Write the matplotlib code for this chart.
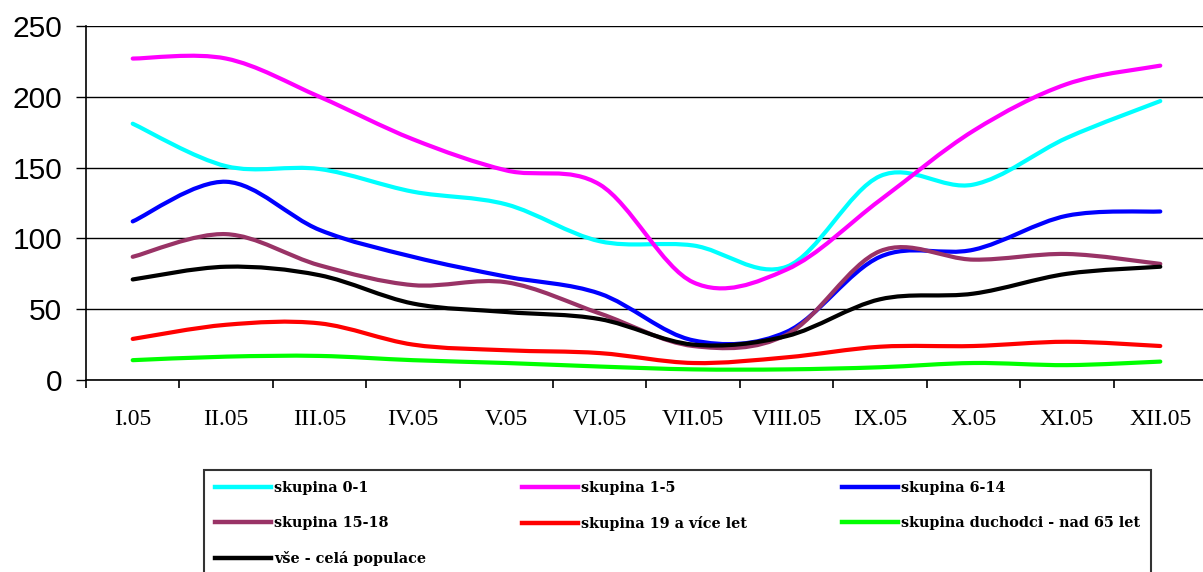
import numpy as np
import matplotlib.pyplot as plt
from matplotlib.path import Path
from matplotlib.patches import PathPatch
from matplotlib.lines import Line2D

mesice = ["I.05", "II.05", "III.05", "IV.05", "V.05", "VI.05",
          "VII.05", "VIII.05", "IX.05", "X.05", "XI.05", "XII.05"]

skupina_0_1 = [181, 151, 149, 133, 124, 98, 95, 80, 144, 138, 171, 197]
skupina_1_5 = [227, 227, 200, 170, 148, 138, 69, 78, 127, 176, 209, 222]
skupina_6_14 = [112, 140, 106, 87, 73, 61, 28, 34, 87, 92, 116, 119]
skupina_15_18 = [87, 103, 81, 67, 69, 47, 24, 32, 91, 85, 89, 82]
skupina_19 = [29, 39, 40, 25, 21, 19, 12, 16, 23.5, 24, 27, 24]
duchodci = [14, 16.5, 17, 14, 12, 9.5, 7.5, 7.5, 9, 12, 10.5, 13]
cela_populace = [71, 80, 74, 54, 48, 43, 25, 31, 57, 61, 75, 80]

serie = [
    ("skupina 0-1", skupina_0_1, "#00ffff"),
    ("skupina 1-5", skupina_1_5, "#ff00ff"),
    ("skupina 6-14", skupina_6_14, "#0000ff"),
    ("skupina 15-18", skupina_15_18, "#993366"),
    ("skupina 19 a více let", skupina_19, "#ff0000"),
    ("skupina duchodci - nad 65 let", duchodci, "#00ff00"),
    ("vše - celá populace", cela_populace, "#000000"),
]


def hladka_cesta(x, y):
    # Bezierovy useky pres kazdy bod (tecny jako u Catmull-Rom)
    body = np.column_stack([x, y]).astype(float)
    n = len(body)
    verts = [body[0]]
    codes = [Path.MOVETO]
    for i in range(n - 1):
        p0 = body[max(i - 1, 0)]
        p1 = body[i]
        p2 = body[i + 1]
        p3 = body[min(i + 2, n - 1)]
        verts += [p1 + (p2 - p0) / 6, p2 - (p3 - p1) / 6, p2]
        codes += [Path.CURVE4] * 3
    return Path(verts, codes)


W, H = 1203, 572
fig = plt.figure(figsize=(W / 100, H / 100), dpi=100)
ax = fig.add_axes([86 / W, 1 - 380 / H, 1121 / W, 354 / H])

x = np.arange(len(mesice))
handles = []
for nazev, hodnoty, barva in serie:
    ax.add_patch(PathPatch(hladka_cesta(x, hodnoty), facecolor="none",
                           edgecolor=barva, lw=3.0, capstyle="round",
                           joinstyle="round"))
    handles.append(Line2D([], [], color=barva, lw=3.2, label=nazev))

ax.set_xlim(-0.5, len(mesice) - 0.5)
ax.set_ylim(0, 250)

ax.set_yticks(np.arange(0, 251, 50))
ax.yaxis.grid(True, color="black", lw=1.0)
ax.set_axisbelow(True)
ax.tick_params(axis="y", length=7, width=1, pad=10, labelsize=21.5)
for t in ax.get_yticklabels():
    t.set_fontfamily("Liberation Sans")

# delici carky mezi mesici, popisky uprostred
ax.set_xticks(np.arange(len(mesice) + 1) - 0.5)
ax.set_xticklabels([])
ax.set_xticks(x, minor=True)
ax.set_xticklabels(mesice, minor=True, fontfamily="Liberation Serif", fontsize=17)
ax.tick_params(axis="x", which="major", length=6, width=1.2)
ax.tick_params(axis="x", which="minor", length=0, pad=21)

for s in ["top", "right"]:
    ax.spines[s].set_visible(False)
for s in ["left", "bottom"]:
    ax.spines[s].set_linewidth(1.2)

# legenda po radcich jako v Excelu
poradi = [0, 3, 6, 1, 4, 2, 5]
leg = fig.legend([handles[i] for i in poradi], [handles[i].get_label() for i in poradi],
                 ncol=3, loc="upper left", bbox_to_anchor=(204 / W, 1 - 470 / H),
                 frameon=True, fancybox=False, edgecolor="black",
                 prop={"family": "DejaVu Serif", "weight": "bold", "size": 10.4},
                 handlelength=3.9, handletextpad=0.2, labelspacing=1.45,
                 columnspacing=6.6, borderpad=0.75, borderaxespad=0)
leg.get_frame().set_linewidth(1.5)

fig.savefig("out.png", dpi=100)
